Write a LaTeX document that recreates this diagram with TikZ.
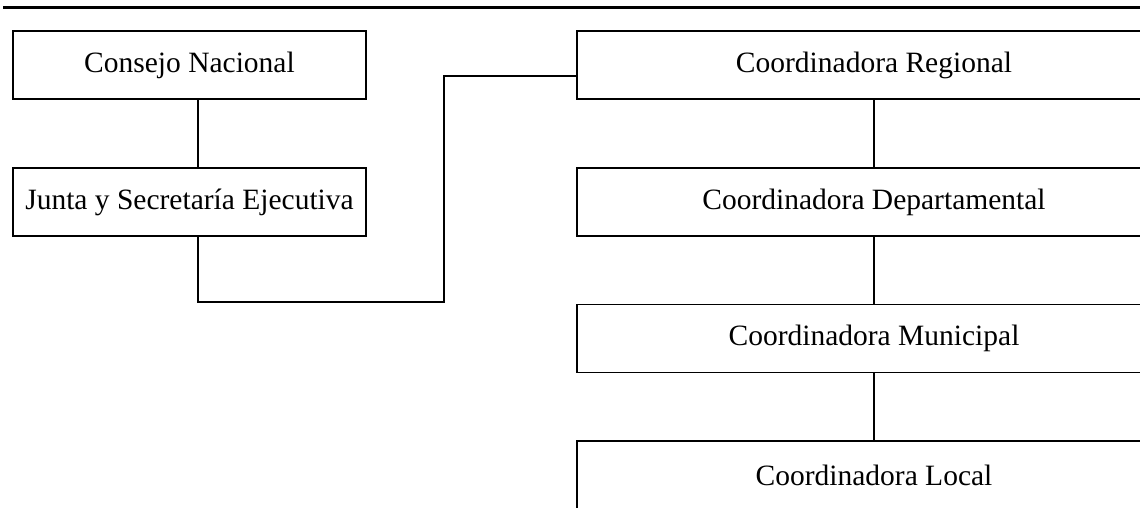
\documentclass[tikz,border=0pt]{standalone}
\usepackage{fontspec}
\setmainfont{Liberation Serif}
\begin{document}
\begin{tikzpicture}[x=1pt,y=-1pt,
  orgbox/.style={draw,line width=1.8pt,inner sep=0pt,minimum height=68pt,font=\fontsize{29.5}{33}\selectfont},
  leftbox/.style={orgbox,minimum width=353pt},
  rightbox/.style={orgbox,minimum width=594pt},
  link/.style={draw,line width=1.6pt}]
\clip (0,0) rectangle (1140,507);
\fill[white] (0,0) rectangle (1140,507);
\coordinate (r1) at (3,7.5);
\coordinate (r2) at (1145,7.5);
\draw[line width=2.5pt] (r1) -- (r2);
\node[leftbox] (cn) at (189.5,65) {Consejo Nacional};
\node[leftbox] (js) at (189.5,202) {Junta y Secretaría Ejecutiva};
\node[rightbox] (cr) at (874,65) {Coordinadora Regional};
\node[rightbox] (cd) at (874,202) {Coordinadora Departamental};
\node[rightbox] (cm) at (874,338.5) {Coordinadora Municipal};
\node[rightbox] (cl) at (874,475) {Coordinadora Local};
\coordinate (k1) at (198,302);
\coordinate (k2) at (444,302);
\draw[link] ([xshift=8.5pt]cn.south) -- ([xshift=8.5pt]js.north);
\draw[link] ([xshift=8.5pt]js.south) -- (k1) -- (k2) |- ([yshift=-11pt]cr.west);
\draw[link] (cr.south) -- (cd.north);
\draw[link] (cd.south) -- (cm.north);
\draw[link] (cm.south) -- (cl.north);
\end{tikzpicture}
\end{document}
